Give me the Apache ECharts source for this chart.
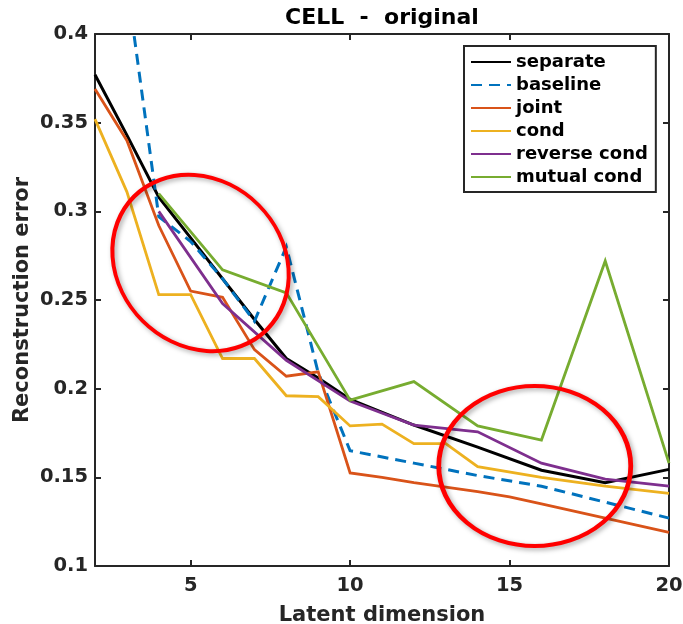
<!DOCTYPE html>
<html>
<head>
<meta charset="utf-8">
<script src="https://cdn.jsdelivr.net/npm/echarts@6/dist/echarts.min.js"></script>
<style>
  html, body { margin: 0; padding: 0; background: #ffffff; }
  #chart { width: 683px; height: 624px; }
</style>
</head>
<body>
<div id="chart"></div>
<script>
// Latent dimensions evaluated (x values)
const dims = [2, 3, 4, 5, 6, 7, 8, 9, 10, 11, 12, 13, 14, 15, 16, 17, 18, 19, 20];

// Reconstruction error per model (null = not evaluated at that dimension)
const separate    = [0.377, 0.343, 0.308, 0.285, 0.262, 0.239, 0.217, 0.206, 0.194, null, 0.1795, null, 0.167, null, 0.154, null, 0.147, null, 0.1545];
const baseline    = [null, 0.429, 0.297, 0.283, 0.262, 0.238, 0.280, 0.209, 0.165, null, 0.158, null, 0.151, null, 0.145, null, 0.136, null, 0.127];
const joint       = [0.369, 0.340, 0.292, 0.255, 0.2515, 0.222, 0.207, 0.2095, 0.1525, 0.150, 0.147, null, 0.142, 0.139, 0.135, null, 0.127, null, 0.119];
const cond        = [0.352, 0.311, 0.253, 0.253, 0.217, 0.217, 0.196, 0.1955, 0.179, 0.180, 0.169, 0.169, 0.156, null, 0.150, null, 0.145, null, 0.141];
const reverseCond = [null, null, 0.300, null, 0.248, null, 0.216, null, 0.193, null, 0.1795, null, 0.1757, null, 0.158, null, 0.149, null, 0.145];
const mutualCond  = [null, null, 0.310, null, 0.267, null, 0.254, null, 0.1935, null, 0.204, null, 0.179, null, 0.171, null, 0.272, null, 0.158];

// Axis ticks
const xTicks = [5, 10, 15, 20];
const yTicks = [0.1, 0.15, 0.2, 0.25, 0.3, 0.35, 0.4];

const FONT = 'DejaVu Sans';
const AXIS_COLOR = '#262626';

function pairs(values) {
  return dims.map((d, i) => [d, values[i]]).filter(p => p[1] !== null);
}

const seriesDefs = [
  { name: 'separate',     values: separate,    color: '#000000', width: 3,   type: 'solid' },
  { name: 'baseline',     values: baseline,    color: '#0072BD', width: 3,   type: [11, 7] },
  { name: 'joint',        values: joint,       color: '#D95319', width: 2.8, type: 'solid' },
  { name: 'cond',         values: cond,        color: '#EDB120', width: 2.8, type: 'solid' },
  { name: 'reverse cond', values: reverseCond, color: '#7E2F8E', width: 2.8, type: 'solid' },
  { name: 'mutual cond',  values: mutualCond,  color: '#77AC30', width: 2.8, type: 'solid' }
];

const chart = echarts.init(document.getElementById('chart'), null, { renderer: 'canvas' });

const labelStyle = { fontFamily: FONT, fontWeight: 'bold', fontSize: 19.5, color: AXIS_COLOR };

const option = {
  animation: false,
  backgroundColor: '#ffffff',
  title: {
    text: 'CELL  -  original',
    left: 382,
    top: 7,
    padding: 0,
    textAlign: 'center',
    textStyle: { fontFamily: FONT, fontWeight: 'bold', fontSize: 22, color: '#000000' }
  },
  grid: { left: 95, right: 14, top: 34, bottom: 58, containLabel: false, outerBoundsMode: 'none' },
  legend: {
    orient: 'vertical',
    left: 464,
    top: 46,
    itemWidth: 40,
    itemHeight: 14,
    itemGap: 5,
    padding: [7, 8, 6, 6],
    borderColor: AXIS_COLOR,
    borderWidth: 2,
    backgroundColor: '#ffffff',
    // line-only keys: hide the marker drawn on top of each key line
    itemStyle: { opacity: 0, color: 'rgba(0,0,0,0)', borderWidth: 0 },
    textStyle: { fontFamily: FONT, fontWeight: 'bold', fontSize: 18, lineHeight: 18, color: '#000000' },
    data: seriesDefs.map(s => s.name)
  },
  xAxis: [
    {
      type: 'value', min: 2, max: 20, position: 'bottom',
      name: 'Latent dimension', nameLocation: 'middle', nameGap: 39,
      nameTextStyle: { fontFamily: FONT, fontWeight: 'bold', fontSize: 21, color: AXIS_COLOR },
      axisLine: { show: true, onZero: false, lineStyle: { color: AXIS_COLOR, width: 2 } },
      axisTick: { show: true, inside: true, length: 6, customValues: xTicks, lineStyle: { color: AXIS_COLOR, width: 2 } },
      axisLabel: { show: true, margin: 10, customValues: xTicks, ...labelStyle },
      splitLine: { show: false }
    },
    {
      type: 'value', min: 2, max: 20, position: 'top',
      axisLine: { show: true, onZero: false, lineStyle: { color: AXIS_COLOR, width: 2 } },
      axisTick: { show: true, inside: true, length: 6, customValues: xTicks, lineStyle: { color: AXIS_COLOR, width: 2 } },
      axisLabel: { show: false },
      splitLine: { show: false }
    }
  ],
  yAxis: [
    {
      type: 'value', min: 0.1, max: 0.4, position: 'left',
      name: 'Reconstruction error', nameLocation: 'middle', nameGap: 62,
      nameMoveOverlap: false,
      nameTextStyle: { fontFamily: FONT, fontWeight: 'bold', fontSize: 21, color: AXIS_COLOR },
      axisLine: { show: true, onZero: false, lineStyle: { color: AXIS_COLOR, width: 2 } },
      axisTick: { show: true, inside: true, length: 6, customValues: yTicks, lineStyle: { color: AXIS_COLOR, width: 2 } },
      axisLabel: { show: true, margin: 7, customValues: yTicks, formatter: v => String(+v.toFixed(2)), ...labelStyle },
      splitLine: { show: false }
    },
    {
      type: 'value', min: 0.1, max: 0.4, position: 'right',
      axisLine: { show: true, onZero: false, lineStyle: { color: AXIS_COLOR, width: 2 } },
      axisTick: { show: true, inside: true, length: 6, customValues: yTicks, lineStyle: { color: AXIS_COLOR, width: 2 } },
      axisLabel: { show: false },
      splitLine: { show: false }
    }
  ],
  series: seriesDefs.map(s => ({
    name: s.name,
    type: 'line',
    xAxisIndex: 0,
    yAxisIndex: 0,
    data: pairs(s.values),
    symbol: 'none',
    clip: true,
    color: s.color,
    lineStyle: { color: s.color, width: s.width, type: s.type, cap: 'butt', join: 'miter' },
    emphasis: { disabled: true }
  }))
};

chart.setOption(option);

// Highlight ellipses, anchored in data coordinates
const highlights = [
  { center: [5.31, 0.2709], rx: 94, ry: 82, angle: -Math.PI / 4 },
  { center: [15.79, 0.1564], rx: 96, ry: 80, angle: 0 }
];

chart.setOption({
  graphic: highlights.map(h => {
    const p = chart.convertToPixel({ xAxisIndex: 0, yAxisIndex: 0 }, h.center);
    return {
      type: 'circle',
      x: p[0], y: p[1],
      rotation: h.angle,
      scaleX: h.rx / h.ry,
      scaleY: 1,
      shape: { cx: 0, cy: 0, r: h.ry },
      style: {
        fill: 'none',
        stroke: '#ff0000',
        lineWidth: 4,
        strokeNoScale: true,
        shadowBlur: 5,
        shadowColor: 'rgba(0,0,0,0.35)',
        shadowOffsetX: 2,
        shadowOffsetY: 2
      },
      z: 100,
      silent: true
    };
  })
});
</script>
</body>
</html>
